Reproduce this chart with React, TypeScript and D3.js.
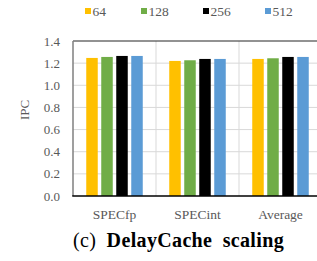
import React, { useEffect, useRef } from 'react';
import * as d3 from 'd3';

const categories = ['SPECfp', 'SPECint', 'Average'];
const seriesNames = ['64', '128', '256', '512'];
const values64 = [1.247, 1.22, 1.238];
const values128 = [1.256, 1.226, 1.244];
const values256 = [1.265, 1.238, 1.256];
const values512 = [1.265, 1.238, 1.256];
const yTicks = [0, 0.2, 0.4, 0.6, 0.8, 1.0, 1.2, 1.4];

const COLORS = ['#ffc000', '#70ad47', '#000000', '#5b9bd5'];
const FONT = '"Liberation Serif", "Times New Roman", serif';

const App: React.FC = () => {
  const svgRef = useRef<SVGSVGElement | null>(null);

  useEffect(() => {
    if (!svgRef.current) return;
    const svg = d3.select(svgRef.current);
    svg.selectAll('*').remove();

    const width = 317;
    const height = 261;
    const margin = { top: 41, right: -5, bottom: 65, left: 73 };

    const seriesValues = [values64, values128, values256, values512];

    const xScale = d3.scaleBand()
      .domain(categories)
      .range([margin.left, width - margin.right])
      .padding(0);

    const xInner = d3.scaleBand()
      .domain(seriesNames)
      .range([0, xScale.bandwidth()])
      .paddingInner(0.233)
      .paddingOuter(0.883);

    const yScale = d3.scaleLinear()
      .domain([0, 1.4])
      .range([height - margin.bottom, margin.top]);

    // gridlines
    svg.append('g')
      .selectAll('line')
      .data(yTicks.filter(t => t > 0 && t < 1.4))
      .enter().append('line')
      .attr('x1', margin.left)
      .attr('x2', width)
      .attr('y1', d => yScale(d))
      .attr('y2', d => yScale(d))
      .attr('stroke', '#d9d9d9')
      .attr('stroke-width', 1);

    svg.append('g')
      .selectAll('line')
      .data(categories.slice(1))
      .enter().append('line')
      .attr('x1', d => xScale(d)!)
      .attr('x2', d => xScale(d)!)
      .attr('y1', yScale(1.4))
      .attr('y2', yScale(0))
      .attr('stroke', '#d9d9d9')
      .attr('stroke-width', 1);

    // bars
    const groups = svg.append('g')
      .selectAll('g')
      .data(seriesNames)
      .enter().append('g')
      .attr('fill', (d, i) => COLORS[i]);

    groups.selectAll('rect')
      .data((d, i) => categories.map((c, j) => ({ cat: c, key: d, value: seriesValues[i][j] })))
      .enter().append('rect')
      .attr('x', d => xScale(d.cat)! + xInner(d.key)!)
      .attr('y', d => yScale(d.value))
      .attr('width', xInner.bandwidth())
      .attr('height', d => yScale(0) - yScale(d.value));

    // frame
    svg.append('line')
      .attr('x1', margin.left).attr('x2', width)
      .attr('y1', yScale(1.4)).attr('y2', yScale(1.4))
      .attr('stroke', '#262626').attr('stroke-width', 1.2);
    svg.append('line')
      .attr('x1', margin.left).attr('x2', margin.left)
      .attr('y1', yScale(1.4)).attr('y2', yScale(0))
      .attr('stroke', '#7f7f7f').attr('stroke-width', 1.5);
    svg.append('line')
      .attr('x1', margin.left - 0.75).attr('x2', width)
      .attr('y1', yScale(0)).attr('y2', yScale(0))
      .attr('stroke', '#000').attr('stroke-width', 1.5);

    // y tick labels
    svg.append('g')
      .selectAll('text')
      .data(yTicks)
      .enter().append('text')
      .attr('x', 60)
      .attr('y', d => yScale(d))
      .attr('dy', '0.35em')
      .attr('text-anchor', 'end')
      .attr('font-family', FONT)
      .attr('font-size', '13px')
      .attr('fill', '#595959')
      .text(d => d3.format('.1f')(d));

    // y axis title
    svg.append('text')
      .attr('transform', `translate(29,110) rotate(-90)`)
      .attr('text-anchor', 'middle')
      .attr('font-family', FONT)
      .attr('font-size', '13px')
      .attr('fill', '#595959')
      .text('IPC');

    // x labels
    svg.append('g')
      .selectAll('text')
      .data(categories)
      .enter().append('text')
      .attr('x', d => xScale(d)! + xScale.bandwidth() / 2)
      .attr('y', 219)
      .attr('text-anchor', 'middle')
      .attr('font-family', FONT)
      .attr('font-size', '13.5px')
      .attr('fill', '#595959')
      .text(d => d);

    // legend
    const legendX = [85, 141, 203, 265];
    const legend = svg.append('g')
      .selectAll('g')
      .data(seriesNames)
      .enter().append('g')
      .attr('transform', (d, i) => `translate(${legendX[i]},0)`);
    legend.append('rect')
      .attr('x', 0).attr('y', 8)
      .attr('width', 6).attr('height', 6)
      .attr('fill', (d, i) => COLORS[i]);
    legend.append('text')
      .attr('x', 7.5).attr('y', 15.5)
      .attr('font-family', FONT)
      .attr('font-size', '13.5px')
      .attr('fill', '#595959')
      .text(d => d);

    // caption
    const caption = svg.append('text')
      .attr('x', 73)
      .attr('y', 247)
      .attr('text-anchor', 'start')
      .attr('font-family', FONT)
      .attr('font-size', '20px')
      .attr('word-spacing', '5px')
      .attr('letter-spacing', '0.35px')
      .attr('fill', '#000');
    caption.append('tspan').text('(c) ');
    caption.append('tspan').attr('font-weight', 'bold').text('DelayCache scaling');
  }, []);

  return (
    <div style={{ position: 'absolute', left: 0, top: 0 }}>
      <svg ref={svgRef} width={317} height={261} style={{ display: 'block', background: '#fff' }} />
    </div>
  );
};

export default App;
